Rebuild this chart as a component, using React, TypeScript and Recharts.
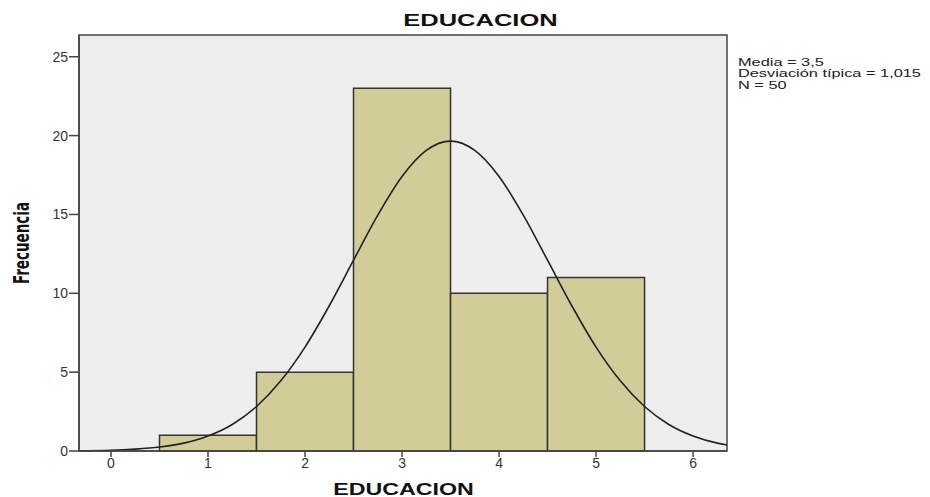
import React from "react";
import {
  ComposedChart,
  Line,
  XAxis,
  YAxis,
  CartesianGrid,
  ReferenceArea,
  Label,
} from "recharts";

// histogram bins (EDUCACION value -> frequency)
const binCenters = [1, 2, 3, 4, 5];
const binCounts = [1, 5, 23, 10, 11];

// fitted normal curve
const curveX = [
  -0.33, 0, 0.25, 0.5, 0.75, 1, 1.25, 1.5, 1.75, 2, 2.25, 2.5, 2.75, 3, 3.25, 3.5,
  3.75, 4, 4.25, 4.5, 4.75, 5, 5.25, 5.5, 5.75, 6, 6.25, 6.35,
];
const curveY = [
  0.02, 0.05, 0.12, 0.25, 0.5, 0.95, 1.68, 2.82, 4.45, 6.59, 9.21, 12.1, 14.96, 17.41,
  19.06, 19.65, 19.06, 17.41, 14.96, 12.1, 9.21, 6.59, 4.45, 2.82, 1.68, 0.95, 0.5, 0.38,
];

const xTicks = [0, 1, 2, 3, 4, 5, 6];
const yTicks = [0, 5, 10, 15, 20, 25];
const statsLines = ["Media = 3,5", "Desviación típica = 1,015", "N = 50"];

const X_DOMAIN: [number, number] = [-0.33, 6.35];
const Y_DOMAIN: [number, number] = [0, 26.38];

const curveData = curveX.map((x, i) => ({ x, y: curveY[i] }));

const FONT = "'Liberation Sans', Arial, sans-serif";
const tickStyle = { fontSize: 14, fill: "#333", fontFamily: FONT };

// the source image is stretched sideways, so wide text gets a scaleX
const stretched = (scale: number): React.CSSProperties => ({
  display: "inline-block",
  transform: `scaleX(${scale})`,
});

export default function App() {
  return (
    <div
      style={{
        position: "absolute",
        left: 0,
        top: 0,
        width: 930,
        height: 497,
        background: "#fff",
        fontFamily: FONT,
      }}
    >
      <div
        style={{
          position: "absolute",
          left: 380,
          width: 200,
          top: 12,
          textAlign: "center",
          fontWeight: "bold",
          fontSize: 17,
          lineHeight: "18px",
          color: "#111",
        }}
      >
        <span style={stretched(1.5)}>EDUCACION</span>
      </div>

      <div
        style={{
          position: "absolute",
          left: 303,
          width: 200,
          top: 481,
          textAlign: "center",
          fontWeight: "bold",
          fontSize: 16,
          lineHeight: "17px",
          color: "#111",
        }}
      >
        <span style={stretched(1.45)}>EDUCACION</span>
      </div>

      <div
        style={{
          position: "absolute",
          left: 738,
          top: 57,
          fontSize: 11.5,
          color: "#222",
          transform: "scaleX(1.42)",
          transformOrigin: "left top",
        }}
      >
        {statsLines.map((s) => (
          <div key={s} style={{ height: 11.3, lineHeight: "11.3px", whiteSpace: "nowrap" }}>
            {s}
          </div>
        ))}
      </div>

      <ComposedChart
        width={930}
        height={497}
        data={curveData}
        margin={{ top: 35, right: 203, left: 0, bottom: 0 }}
      >
        <CartesianGrid fill="#eeeeee" horizontal={false} vertical={false} />
        <XAxis
          xAxisId="main"
          dataKey="x"
          type="number"
          domain={X_DOMAIN}
          ticks={xTicks}
          allowDataOverflow
          height={46}
          tick={tickStyle}
          tickSize={6}
          tickMargin={1}
          axisLine={{ stroke: "#444", strokeWidth: 1.5 }}
          tickLine={{ stroke: "#444", strokeWidth: 1.5 }}
        />
        <YAxis
          yAxisId="main"
          type="number"
          domain={Y_DOMAIN}
          ticks={yTicks}
          allowDataOverflow
          width={79}
          tick={tickStyle}
          tickSize={10}
          tickMargin={1}
          axisLine={{ stroke: "#444", strokeWidth: 1.5 }}
          tickLine={{ stroke: "#444", strokeWidth: 1.5 }}
        >
          <Label
            content={({ viewBox }: any) => {
              const cx = viewBox.x + 22;
              const cy = viewBox.y + viewBox.height / 2;
              return (
                <text
                  x={0}
                  y={0}
                  transform={`translate(${cx} ${cy}) scale(1.4 1) rotate(-90)`}
                  textAnchor="middle"
                  dominantBaseline="central"
                  style={{
                    fontSize: 15,
                    fontWeight: "bold",
                    fill: "#111",
                    fontFamily: "'Liberation Sans Narrow', 'DejaVu Sans Condensed', sans-serif",
                  }}
                >
                  Frecuencia
                </text>
              );
            }}
          />
        </YAxis>
        {binCenters.map((c, i) => (
          <ReferenceArea
            key={c}
            xAxisId="main"
            yAxisId="main"
            x1={c - 0.5}
            x2={c + 0.5}
            y1={0}
            y2={binCounts[i]}
            fill="#d2cd98"
            fillOpacity={1}
            stroke="#333"
            strokeWidth={1.5}
          />
        ))}
        <Line
          xAxisId="main"
          yAxisId="main"
          dataKey="y"
          type="monotone"
          stroke="#222"
          strokeWidth={1.6}
          dot={false}
          isAnimationActive={false}
        />
        {/* plot frame */}
        <ReferenceArea
          xAxisId="main"
          yAxisId="main"
          x1={X_DOMAIN[0]}
          x2={X_DOMAIN[1]}
          y1={Y_DOMAIN[0]}
          y2={Y_DOMAIN[1]}
          fill="none"
          stroke="#444"
          strokeWidth={1.5}
        />
      </ComposedChart>
    </div>
  );
}
